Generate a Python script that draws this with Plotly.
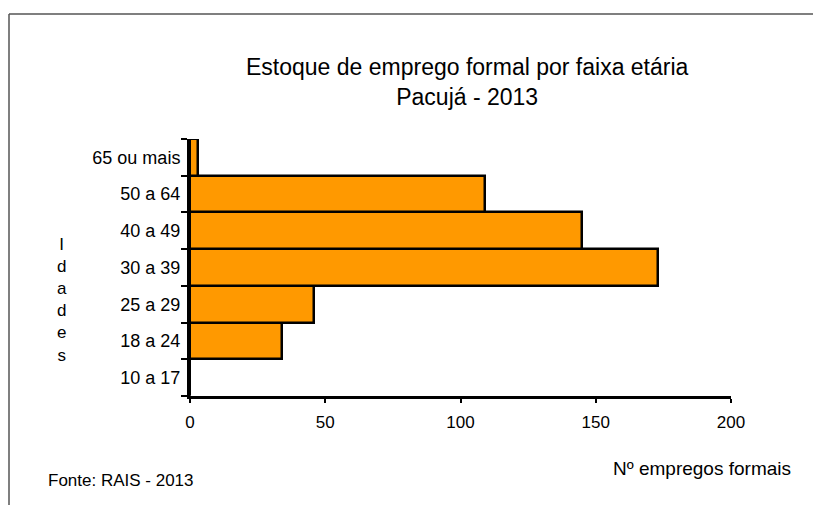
import plotly.graph_objects as go

categorias = ["10 a 17", "18 a 24", "25 a 29", "30 a 39", "40 a 49", "50 a 64", "65 ou mais"]
empregos = [0, 34, 46, 173, 145, 109, 3]
x_ticks = [0, 50, 100, 150, 200]

titulo = "Estoque de emprego formal por faixa etária<br>Pacujá - 2013"
fonte = "Fonte: RAIS - 2013"
x_titulo = "Nº empregos formais"
y_titulo = "I<br>d<br>a<br>d<br>e<br>s"

W, H = 821, 505
OFF = 8  # page body margin
# plot area in page pixel coords
PX0, PX1, PY0, PY1 = 190, 731, 139, 396
L, T = PX0 - OFF, PY0 - OFF
R = W - (PX1 - OFF)
B = H - (PY1 - OFF)
pw, ph = PX1 - PX0, PY1 - PY0

def px(x):
    return (x - PX0) / pw

def py(y):
    return (PY1 - y) / ph

FONT = "Liberation Sans, Arial, sans-serif"

fig = go.Figure(go.Bar(
    y=categorias, x=empregos, orientation="h",
    marker=dict(color="#FF9900", line=dict(color="black", width=2.5)),
    hoverinfo="skip",
))

fig.update_layout(
    width=W, height=H,
    margin=dict(l=L, r=R, t=T, b=B),
    paper_bgcolor="white", plot_bgcolor="white",
    bargap=0, showlegend=False,
    font=dict(family=FONT, color="black", size=16),
    xaxis=dict(range=[0, 200], tickvals=x_ticks, ticks="outside", ticklen=4,
               tickwidth=2, tickcolor="black", showline=True, linecolor="black",
               linewidth=3, showgrid=False, zeroline=False,
               tickfont=dict(size=17), ticklabelstandoff=5, fixedrange=True),
    yaxis=dict(categoryorder="array", categoryarray=categorias, ticks="outside",
               tickson="boundaries", ticklen=6, tickwidth=2, tickcolor="black",
               showline=True, linecolor="black", linewidth=3, showgrid=False,
               tickfont=dict(size=18), ticklabelstandoff=3, fixedrange=True),
    annotations=[
        dict(text=titulo, x=px(467), y=py(82), xref="paper", yref="paper",
             xanchor="center", yanchor="middle", showarrow=False,
             font=dict(size=23, family=FONT)),
        dict(text=fonte, x=px(196), y=py(480), xref="paper", yref="paper",
             xanchor="right", yanchor="middle", showarrow=False,
             font=dict(size=17, family=FONT)),
        dict(text=x_titulo, x=px(793), y=py(469), xref="paper", yref="paper",
             xanchor="right", yanchor="middle", showarrow=False,
             font=dict(size=19, family=FONT)),
        dict(text=y_titulo, x=px(62), y=py(300), xref="paper", yref="paper",
             xanchor="center", yanchor="middle", showarrow=False,
             font=dict(size=17, family=FONT)),
    ],
    shapes=[
        dict(type="line", xref="paper", yref="paper", x0=px(9), x1=px(829),
             y0=py(14), y1=py(14), line=dict(color="#555555", width=1.5)),
        dict(type="line", xref="paper", yref="paper", x0=px(9), x1=px(9),
             y0=py(14), y1=py(513), line=dict(color="#555555", width=1.5)),
    ],
)

fig.write_html("out.html", config={"displayModeBar": False})
